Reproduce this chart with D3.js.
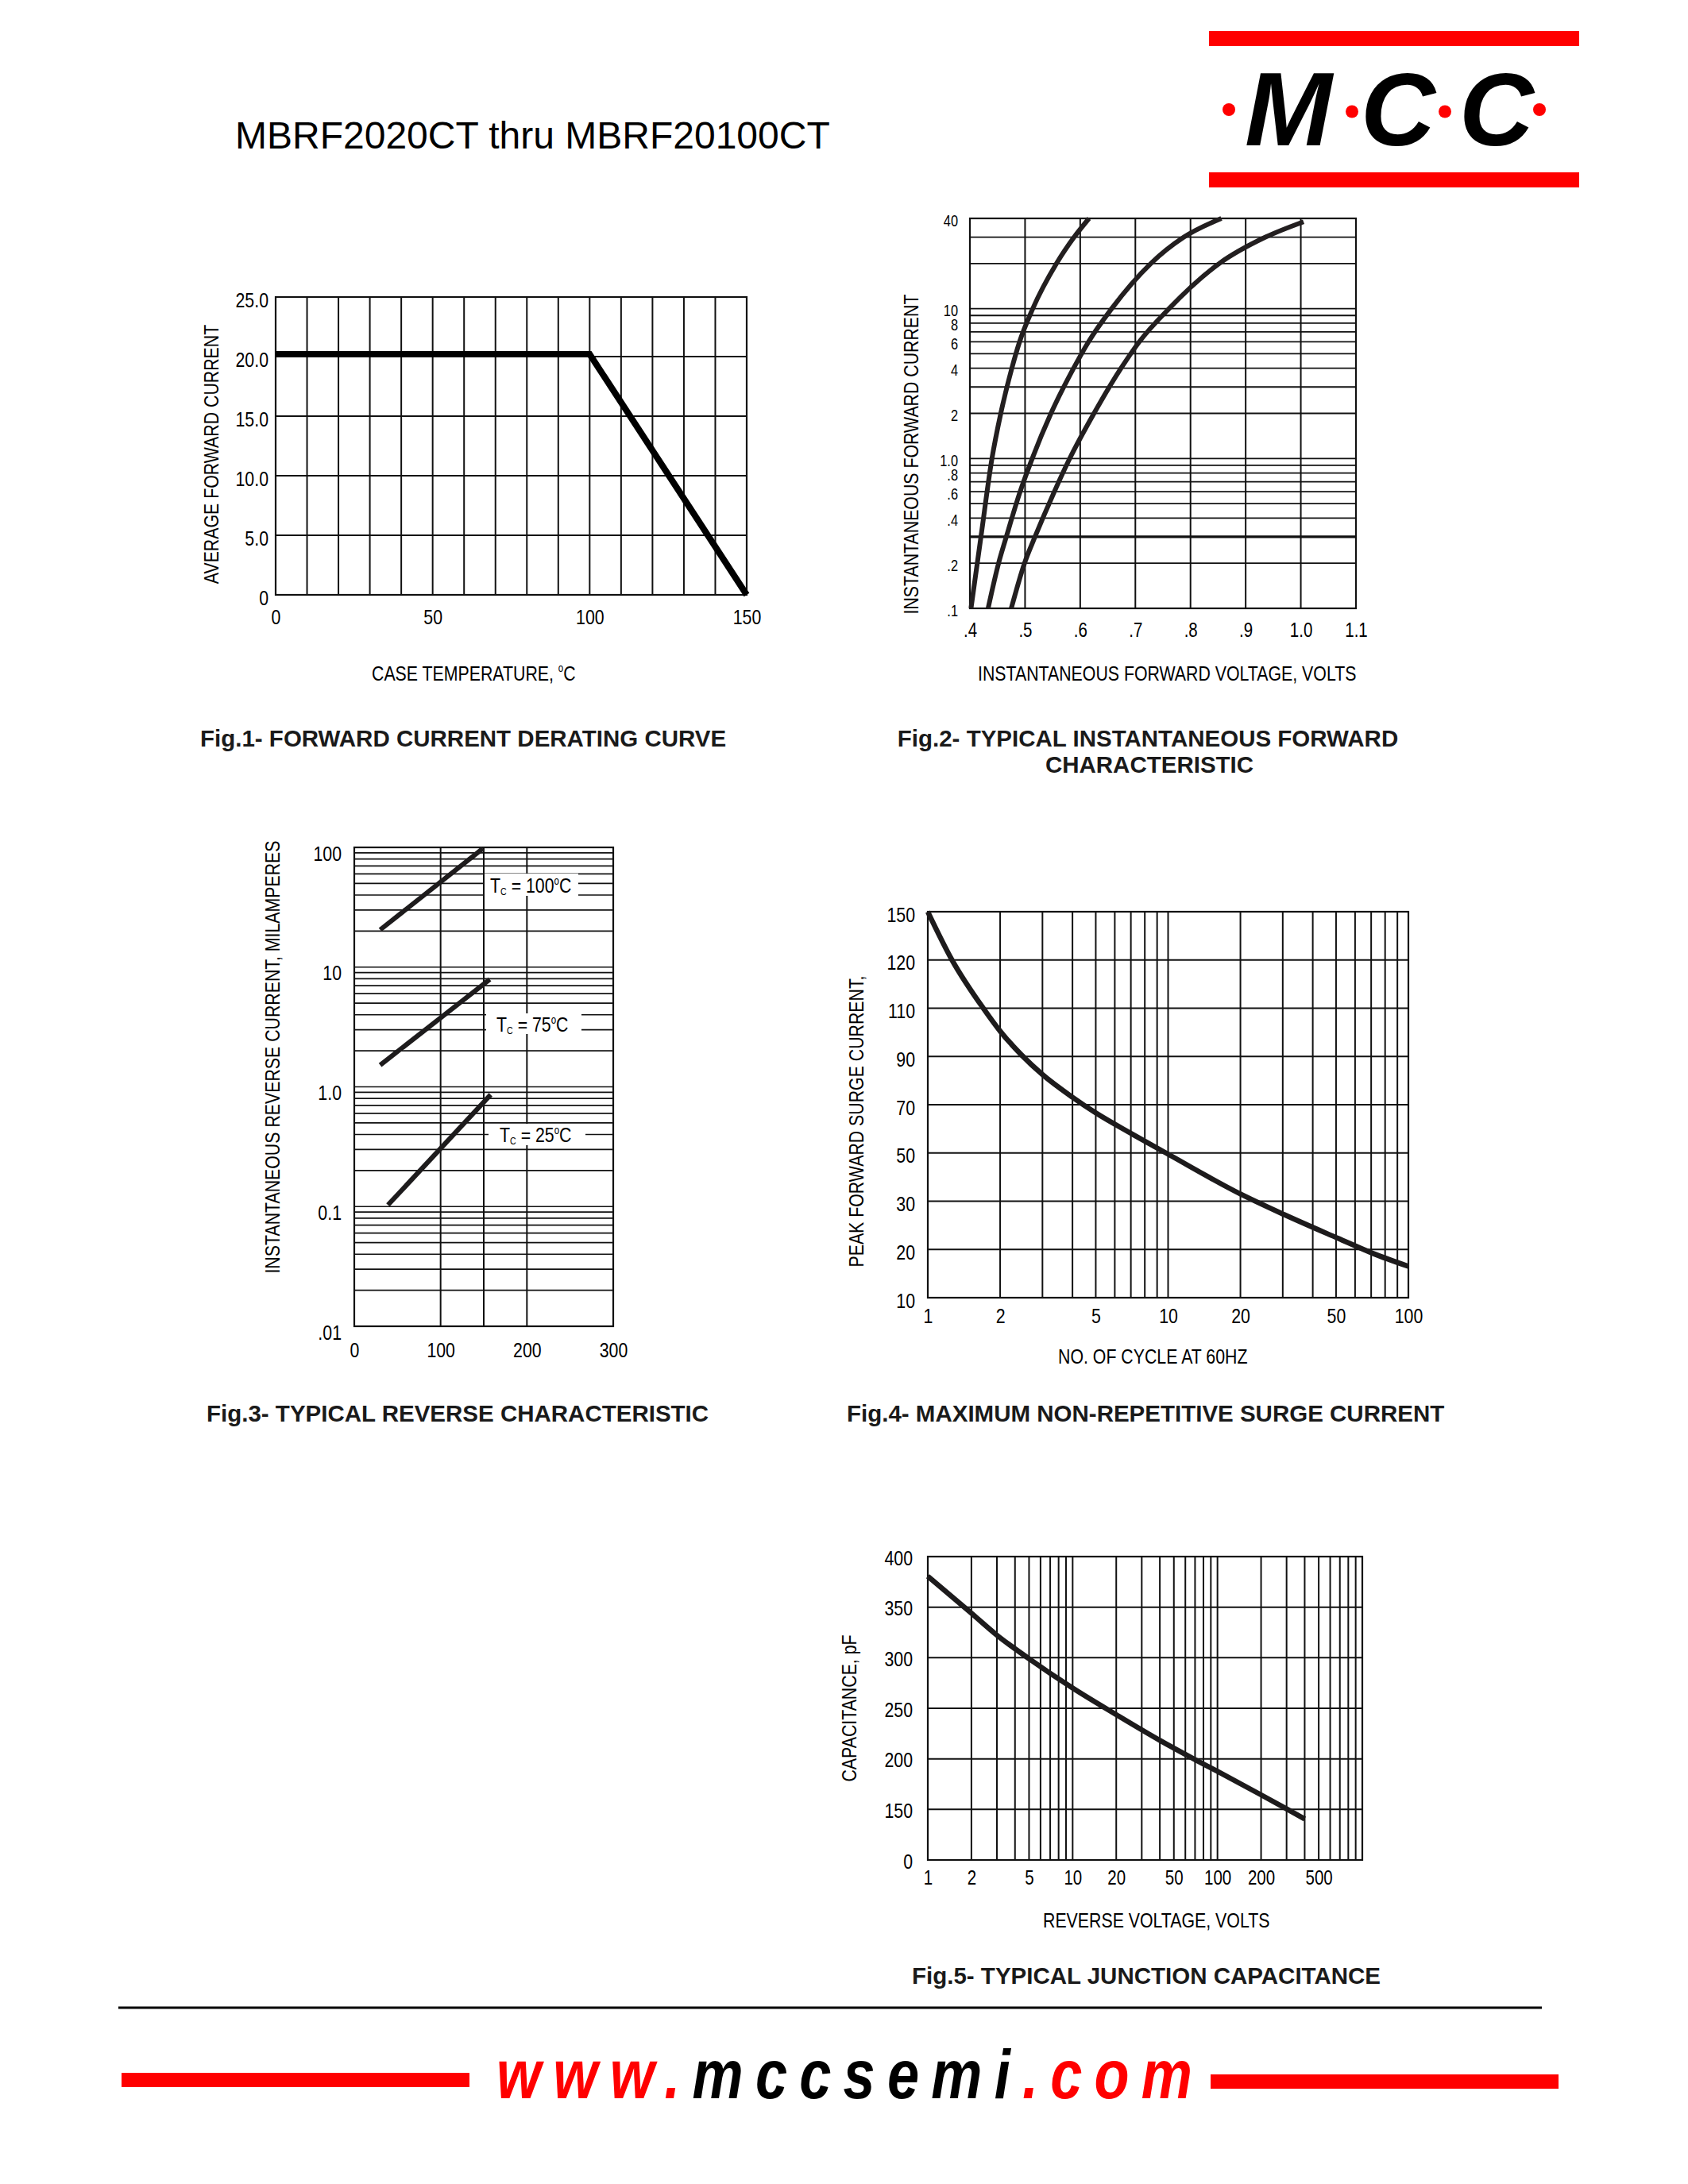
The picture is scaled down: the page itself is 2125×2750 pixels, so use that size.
<!DOCTYPE html>
<html><head><meta charset="utf-8">
<script src="https://cdn.jsdelivr.net/npm/d3@7"></script>
<style>html,body{margin:0;padding:0;background:#fff;} svg{display:block;} text{white-space:pre;}</style>
</head><body>
<script>
// ---------------- DATA ----------------
// Fig.1 Forward current derating curve
const fig1XTicks = [0, 50, 100, 150];
const fig1XLabels = ["0", "50", "100", "150"];
const fig1XGrid = [0,10,20,30,40,50,60,70,80,90,100,110,120,130,140,150];
const fig1YTicks = [0, 5, 10, 15, 20, 25];
const fig1YLabels = ["0", "5.0", "10.0", "15.0", "20.0", "25.0"];
const fig1Temp = [0, 100, 150];
const fig1Current = [20.2, 20.2, 0];

// Fig.2 Typical instantaneous forward characteristic
const fig2XTicks = [0.4, 0.5, 0.6, 0.7, 0.8, 0.9, 1.0, 1.1];
const fig2XLabels = [".4", ".5", ".6", ".7", ".8", ".9", "1.0", "1.1"];
const fig2YTicks = [0.1, 0.2, 0.4, 0.6, 0.8, 1, 2, 4, 6, 8, 10, 40];
const fig2YLabels = [".1", ".2", ".4", ".6", ".8", "1.0", "2", "4", "6", "8", "10", "40"];
const fig2YGrid = [0.1,0.2,0.3,0.4,0.5,0.6,0.7,0.8,0.9,1,2,3,4,5,6,7,8,9,10,20,30,40];
const fig2CurveAV = [0.402, 0.420, 0.440, 0.456, 0.476, 0.490, 0.514, 0.557, 0.589, 0.616];
const fig2CurveAI = [0.1, 0.3, 1, 2, 4, 6, 10, 20, 30, 40];
const fig2CurveBV = [0.433, 0.452, 0.466, 0.491, 0.513, 0.547, 0.588, 0.615, 0.657, 0.728, 0.788, 0.856];
const fig2CurveBI = [0.1, 0.2, 0.3, 0.6, 1, 2, 4, 6, 10, 20, 30, 40];
const fig2CurveCV = [0.475, 0.499, 0.518, 0.553, 0.581, 0.625, 0.674, 0.707, 0.761, 0.852, 0.936, 1.005];
const fig2CurveCI = [0.1, 0.2, 0.3, 0.6, 1, 2, 4, 6, 10, 20, 30, 38];

// Fig.3 Typical reverse characteristic
const fig3XTicks = [0, 100, 200, 300];
const fig3XLabels = ["0", "100", "200", "300"];
const fig3XGrid = [0, 100, 150, 200, 300];
const fig3YTicks = [0.01, 0.1, 1, 10, 100];
const fig3YLabels = [".01", "0.1", "1.0", "10", "100"];
const fig3YGrid = [0.01,0.02,0.03,0.04,0.05,0.06,0.07,0.08,0.09,0.1,0.2,0.3,0.4,0.5,0.6,0.7,0.8,0.9,1,2,3,4,5,6,7,8,9,10,20,30,40,50,60,70,80,90,100];
const fig3Temps = ["100", "75", "25"];
const fig3Voltage100 = [30, 149];
const fig3Current100 = [20.5, 98];
const fig3Voltage75 = [30, 157];
const fig3Current75 = [1.52, 7.9];
const fig3Voltage25 = [39, 158];
const fig3Current25 = [0.103, 0.86];

// Fig.4 Maximum non-repetitive surge current
const fig4XTicks = [1, 2, 5, 10, 20, 50, 100];
const fig4XLabels = ["1", "2", "5", "10", "20", "50", "100"];
const fig4XGrid = [1,2,3,4,5,6,7,8,9,10,20,30,40,50,60,70,80,90,100];
const fig4YTicks = [10, 20, 30, 50, 70, 90, 110, 120, 150];
const fig4YLabels = ["10", "20", "30", "50", "70", "90", "110", "120", "150"];
const fig4Cycles = [1, 1.26, 1.71, 2, 2.45, 3, 4, 5, 7.1, 10, 20, 30.5, 51, 71, 100];
const fig4Current = [150, 120.1, 109.7, 100.5, 90.7, 82.5, 73.1, 66.6, 57.8, 49.5, 33.0, 27.2, 22.3, 19.2, 16.5];

// Fig.5 Typical junction capacitance
const fig5XTicks = [1, 2, 5, 10, 20, 50, 100, 200, 500];
const fig5XLabels = ["1", "2", "5", "10", "20", "50", "100", "200", "500"];
const fig5XGrid = [1,2,3,4,5,6,7,8,9,10,20,30,40,50,60,70,80,90,100,200,300,400,500,600,700,800,900,1000];
const fig5YTicks = [0, 150, 200, 250, 300, 350, 400];
const fig5YLabels = ["0", "150", "200", "250", "300", "350", "400"];
const fig5Voltage = [1, 2, 3, 5, 10, 20, 40, 70, 100, 200, 300, 400];
const fig5Cap = [380.6, 344, 322.3, 299, 270, 243.7, 218.3, 199.3, 187.6, 164.4, 150.5, 121.7];

// ---------------- FONTS ----------------
function hasFont(name){
  const c = document.createElement('canvas').getContext('2d');
  const s = 'AVERAGE FORWARD 0123456789';
  c.font = '40px monospace'; const a = c.measureText(s).width;
  c.font = `40px '${name}', monospace`; const b = c.measureText(s).width;
  return Math.abs(a-b) > 0.5;
}
const NARROW = hasFont('Liberation Sans Narrow');
const WF = "'Liberation Sans', Arial, Helvetica, sans-serif";
const NF = NARROW ? "'Liberation Sans Narrow', " + WF : WF;
const SX = NARROW ? 1 : 0.82;

const svg = d3.select('body').append('svg').attr('width', 2125).attr('height', 2750);
svg.append('rect').attr('width', 2125).attr('height', 2750).attr('fill', '#fff');

function txt(parent, x, y, str, o = {}) {
  const narrow = o.narrow !== false;
  let tr = `translate(${x},${y})`;
  if (o.rotate) tr += ` rotate(${o.rotate})`;
  if (narrow && SX !== 1) tr += ` scale(${SX},1)`;
  const g = parent.append('g').attr('transform', tr);
  const t = g.append('text')
    .attr('text-anchor', o.anchor || 'start')
    .attr('font-family', narrow ? NF : WF)
    .attr('font-size', o.size || 26)
    .attr('font-weight', o.weight || 'normal')
    .attr('font-style', o.italic ? 'italic' : 'normal')
    .attr('fill', o.fill || '#000');
  if (str != null) t.text(str);
  return t;
}

function drawGrid(g, xs, ys, xv, yv, f, o = {}) {
  const sw = o.sw || 2;
  g.append('g').selectAll('line').data(xv).join('line')
    .attr('x1', d => xs(d)).attr('x2', d => xs(d)).attr('y1', f.T).attr('y2', f.B)
    .attr('stroke', '#111').attr('stroke-width', sw);
  g.append('g').selectAll('line').data(yv).join('line')
    .attr('x1', f.L).attr('x2', f.R).attr('y1', d => ys(d)).attr('y2', d => ys(d))
    .attr('stroke', '#111').attr('stroke-width', d => (o.heavy && o.heavy.includes(d)) ? sw * 1.6 : (o.ysw || sw));
  g.append('rect').attr('x', f.L).attr('y', f.T).attr('width', f.R - f.L).attr('height', f.B - f.T)
    .attr('fill', 'none').attr('stroke', '#111').attr('stroke-width', o.bw || 2.2);
}

function styleAxis(a, size, dy) {
  a.select('.domain').remove();
  a.selectAll('.tick line').remove();
  a.selectAll('.tick text').attr('x', 0).attr('y', 0).attr('dy', dy)
    .attr('font-family', NF).attr('font-size', size).attr('fill', '#000')
    .attr('transform', SX !== 1 ? `scale(${SX},1)` : null);
}
function leftAxis(ys, vals, labels, xr, yoff, size) {
  const a = svg.append('g').attr('transform', `translate(${xr},${yoff})`)
    .call(d3.axisLeft(ys).tickValues(vals).tickFormat((d, i) => labels[i]).tickSize(0).tickPadding(0));
  styleAxis(a, size, '0.35em');
}
function bottomAxis(xs, vals, labels, yb, size) {
  const a = svg.append('g').attr('transform', `translate(0,${yb})`)
    .call(d3.axisBottom(xs).tickValues(vals).tickFormat((d, i) => labels[i]).tickSize(0).tickPadding(0));
  styleAxis(a, size, '0');
}
function curve(xs, ys, X, Y, w, c, type) {
  svg.append('path').datum(d3.zip(X, Y))
    .attr('d', d3.line().x(d => xs(d[0])).y(d => ys(d[1])).curve(type || d3.curveLinear))
    .attr('fill', 'none').attr('stroke', c || '#1d1b1c').attr('stroke-width', w)
    .attr('stroke-linejoin', 'round').attr('stroke-linecap', 'butt');
}
function caption(x, y, str, anchor) {
  txt(svg, x, y, str, {narrow: false, size: 29.5, weight: 'bold', anchor: anchor || 'start', fill: '#1a1a1a'});
}

// ---------------- HEADER ----------------
txt(svg, 296, 187, 'MBRF2020CT thru MBRF20100CT', {narrow: false, size: 48});
svg.append('rect').attr('x', 1522).attr('y', 39).attr('width', 466).attr('height', 19).attr('fill', '#ff0000');
svg.append('rect').attr('x', 1522).attr('y', 217).attr('width', 466).attr('height', 19).attr('fill', '#ff0000');
txt(svg, 1622, 183, 'M', {narrow: false, size: 132, weight: 'bold', italic: true, anchor: 'middle'});
txt(svg, 1760, 183, 'C', {narrow: false, size: 130, weight: 'bold', italic: true, anchor: 'middle'});
txt(svg, 1884, 183, 'C', {narrow: false, size: 130, weight: 'bold', italic: true, anchor: 'middle'});
[[1547, 138], [1702, 140.5], [1819, 140.5], [1938, 138]].forEach(p =>
  svg.append('circle').attr('cx', p[0]).attr('cy', p[1]).attr('r', 8).attr('fill', '#ff0000'));

// ---------------- FIG 1 ----------------
const f1 = {L: 347, R: 940, T: 374, B: 749};
const x1 = d3.scaleLinear().domain([0, 150]).range([f1.L, f1.R]);
const y1 = d3.scaleLinear().domain([0, 25]).range([f1.B, f1.T]);
drawGrid(svg, x1, y1, fig1XGrid, fig1YTicks, f1);
svg.append('path').datum(d3.zip(fig1Temp, fig1Current))
  .attr('d', d3.line().x(d => x1(d[0])).y(d => y1(d[1])))
  .attr('fill', 'none').attr('stroke', '#000').attr('stroke-width', 8).attr('stroke-linejoin', 'miter');
leftAxis(y1, fig1YTicks, fig1YLabels, 338, 3, 26);
bottomAxis(x1, fig1XTicks, fig1XLabels, 786, 26);
txt(svg, 275, 572, 'AVERAGE FORWARD CURRENT', {rotate: -90, anchor: 'middle', size: 26});
{
  const t = txt(svg, 468, 857, null, {size: 26});
  t.append('tspan').text('CASE TEMPERATURE, ');
  t.append('tspan').attr('font-size', 14).attr('dy', -11).text('o');
  t.append('tspan').attr('dy', 11).text('C');
}
caption(252, 940, 'Fig.1- FORWARD CURRENT DERATING CURVE');

// ---------------- FIG 2 ----------------
const f2 = {L: 1221, R: 1707, T: 275, B: 766};
const x2 = d3.scaleLinear().domain([0.4, 1.1]).range([f2.L, f2.R]);
const y2 = d3.scaleLog().domain([0.1, 40]).range([f2.B, f2.T]);
drawGrid(svg, x2, y2, fig2XTicks, fig2YGrid, f2, {ysw: 1.8, heavy: [0.3]});
curve(x2, y2, fig2CurveAV, fig2CurveAI, 6, '#231f20', d3.curveMonotoneX);
curve(x2, y2, fig2CurveBV, fig2CurveBI, 6, '#231f20', d3.curveMonotoneX);
curve(x2, y2, fig2CurveCV, fig2CurveCI, 6, '#231f20', d3.curveMonotoneX);
leftAxis(y2, fig2YTicks, fig2YLabels, 1206, 2, 20);
bottomAxis(x2, fig2XTicks, fig2XLabels, 802, 25);
txt(svg, 1156, 572, 'INSTANTANEOUS FORWARD CURRENT', {rotate: -90, anchor: 'middle', size: 26});
txt(svg, 1231, 857, 'INSTANTANEOUS FORWARD VOLTAGE, VOLTS', {size: 26});
caption(1445, 940, 'Fig.2- TYPICAL INSTANTANEOUS FORWARD', 'middle');
caption(1447, 973, 'CHARACTERISTIC', 'middle');

// ---------------- FIG 3 ----------------
const f3 = {L: 446, R: 772, T: 1067, B: 1670};
const x3 = d3.scaleLinear().domain([0, 300]).range([f3.L, f3.R]);
const y3 = d3.scaleLog().domain([0.01, 100]).range([f3.B, f3.T]);
drawGrid(svg, x3, y3, fig3XGrid, fig3YGrid, f3, {ysw: 1.7});
curve(x3, y3, fig3Voltage100, fig3Current100, 6, '#1d1b1c');
curve(x3, y3, fig3Voltage75, fig3Current75, 6, '#1d1b1c');
curve(x3, y3, fig3Voltage25, fig3Current25, 6, '#1d1b1c');
leftAxis(y3, fig3YTicks, fig3YLabels, 430, 7, 26);
bottomAxis(x3, fig3XTicks, fig3XLabels, 1709, 26);
txt(svg, 352, 1331, 'INSTANTANEOUS REVERSE CURRENT, MILAMPERES', {rotate: -90, anchor: 'middle', size: 26});
{
  const boxes = [[610, 1100, 118, 28, 617, 1124], [612, 1276, 120, 26, 625, 1299], [615, 1415, 122, 27, 629, 1437.5]];
  boxes.forEach((b, i) => {
    svg.append('rect').attr('x', b[0]).attr('y', b[1]).attr('width', b[2]).attr('height', b[3]).attr('fill', '#fff');
    const t = txt(svg, b[4], b[5], null, {size: 26});
    t.append('tspan').text('T');
    t.append('tspan').attr('font-size', 13).attr('dy', 3).text('C');
    t.append('tspan').attr('dy', -3).text(' = ' + fig3Temps[i]);
    t.append('tspan').attr('font-size', 14).attr('dy', -10).text('o');
    t.append('tspan').attr('dy', 10).text('C');
  });
}
caption(260, 1790, 'Fig.3- TYPICAL REVERSE CHARACTERISTIC');

// ---------------- FIG 4 ----------------
const f4 = {L: 1168, R: 1773, T: 1148, B: 1634};
const x4 = d3.scaleLog().domain([1, 100]).range([f4.L, f4.R]);
const y4 = d3.scaleLinear().domain(fig4YTicks)
  .range(fig4YTicks.map((d, i) => f4.B - i * (f4.B - f4.T) / (fig4YTicks.length - 1)));
drawGrid(svg, x4, y4, fig4XGrid, fig4YTicks, f4);
curve(x4, y4, fig4Cycles, fig4Current, 6.5, '#1d1b1c', d3.curveMonotoneX);
leftAxis(y4, fig4YTicks, fig4YLabels, 1152, 3, 26);
bottomAxis(x4, fig4XTicks, fig4XLabels, 1666, 26);
txt(svg, 1087, 1412, 'PEAK FORWARD SURGE CURRENT,', {rotate: -90, anchor: 'middle', size: 26});
txt(svg, 1332, 1717, 'NO. OF CYCLE AT 60HZ', {size: 26});
caption(1066, 1790, 'Fig.4- MAXIMUM NON-REPETITIVE SURGE CURRENT');

// ---------------- FIG 5 ----------------
const f5 = {L: 1168, R: 1715, T: 1960, B: 2342};
const x5 = d3.scaleLog().domain([1, 1000]).range([f5.L, f5.R]);
const y5 = d3.scaleLinear().domain(fig5YTicks)
  .range(fig5YTicks.map((d, i) => f5.B - i * (f5.B - f5.T) / (fig5YTicks.length - 1)));
drawGrid(svg, x5, y5, fig5XGrid, fig5YTicks, f5);
curve(x5, y5, fig5Voltage, fig5Cap, 6.5, '#1d1b1c', d3.curveMonotoneX);
leftAxis(y5, fig5YTicks, fig5YLabels, 1149, 1, 26);
bottomAxis(x5, fig5XTicks, fig5XLabels, 2373, 25);
txt(svg, 1078, 2151, 'CAPACITANCE, pF', {rotate: -90, anchor: 'middle', size: 26});
txt(svg, 1313, 2427, 'REVERSE VOLTAGE, VOLTS', {size: 26});
caption(1148, 2498, 'Fig.5- TYPICAL JUNCTION CAPACITANCE');

// ---------------- FOOTER ----------------
svg.append('rect').attr('x', 149).attr('y', 2526.5).attr('width', 1792).attr('height', 3).attr('fill', '#000');
svg.append('rect').attr('x', 153).attr('y', 2610).attr('width', 438).attr('height', 18).attr('fill', '#ff0000');
svg.append('rect').attr('x', 1524).attr('y', 2612).attr('width', 438).attr('height', 18).attr('fill', '#ff0000');
{
  const t = txt(svg, 625, 2642, null, {size: 88, weight: 'bold', italic: true});
  t.attr('textLength', 876 / SX).attr('lengthAdjust', 'spacing');
  t.append('tspan').attr('fill', '#ff0000').text('www.');
  t.append('tspan').attr('fill', '#000').text('mccsemi');
  t.append('tspan').attr('fill', '#ff0000').text('.com');
}
</script>
</body></html>
